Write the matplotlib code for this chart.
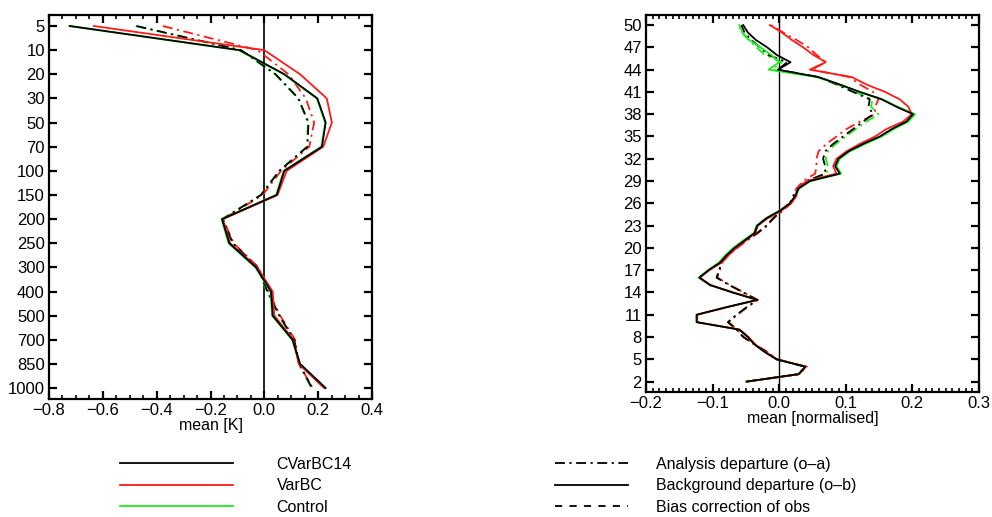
import matplotlib
matplotlib.use("Agg")
import matplotlib.pyplot as plt
from matplotlib.lines import Line2D
from matplotlib.ticker import MultipleLocator, FixedLocator
from matplotlib import font_manager

names = {f.name for f in font_manager.fontManager.ttflist}
BASE = "Liberation Sans" if "Liberation Sans" in names else "DejaVu Sans"
NARROW = "Liberation Sans Narrow" if "Liberation Sans Narrow" in names else BASE
plt.rcParams['font.family'] = [BASE, 'DejaVu Sans']

# ---------------- left panel data (pressure levels, mean [K]) ----------------
levels = [5, 10, 20, 30, 50, 70, 100, 150, 200, 250, 300, 400, 500, 700, 850, 1000]
cv_ob_l = [-0.722, -0.092, 0.075, 0.197, 0.228, 0.214, 0.074, 0.046, -0.157, -0.130, -0.031, 0.025, 0.031, 0.105, 0.133, 0.228]
vb_ob_l = [-0.633, 0.000, 0.133, 0.232, 0.251, 0.219, 0.083, 0.049, -0.154, -0.127, -0.026, 0.031, 0.037, 0.108, 0.128, 0.222]
ct_ob_l = [-0.725, -0.095, 0.072, 0.195, 0.226, 0.212, 0.072, 0.044, -0.159, -0.133, -0.033, 0.023, 0.029, 0.103, 0.131, 0.226]
cv_oa_l = [-0.475, -0.086, 0.042, 0.127, 0.164, 0.160, 0.056, -0.012, -0.155, -0.117, -0.025, 0.012, 0.056, 0.111, 0.130, 0.177]
vb_oa_l = [-0.377, -0.025, 0.090, 0.154, 0.185, 0.167, 0.062, -0.006, -0.153, -0.114, -0.022, 0.015, 0.059, 0.114, 0.128, 0.180]
ct_oa_l = [-0.478, -0.088, 0.040, 0.125, 0.162, 0.158, 0.054, -0.014, -0.157, -0.119, -0.027, 0.010, 0.054, 0.109, 0.128, 0.175]
left_xticks = [-0.8, -0.6, -0.4, -0.2, 0.0, 0.2, 0.4]

# ---------------- right panel data (channels 2..50, mean [normalised]) ----------------
channels = list(range(2, 51))
channel_ticks = [2, 5, 8, 11, 14, 17, 20, 23, 26, 29, 32, 35, 38, 41, 44, 47, 50]
cv_ob_r = [-0.049, 0.029, 0.039, -0.004, -0.022, -0.037, -0.047, -0.060, -0.124, -0.124, -0.080, -0.033, -0.070,
           -0.104, -0.120, -0.106, -0.089, -0.079, -0.067, -0.052, -0.037, -0.033, -0.019, 0.001, 0.016, 0.024,
           0.029, 0.046, 0.091, 0.084, 0.089, 0.104, 0.126, 0.151, 0.169, 0.191, 0.201, 0.176, 0.154, 0.121,
           0.091, 0.059, -0.002, 0.017, -0.004, -0.018, -0.035, -0.047, -0.054]
vb_ob_r = [-0.048, 0.030, 0.040, -0.003, -0.021, -0.036, -0.046, -0.059, -0.123, -0.123, -0.079, -0.032, -0.069,
           -0.103, -0.119, -0.105, -0.087, -0.076, -0.064, -0.050, -0.036, -0.032, -0.017, 0.003, 0.018, 0.026,
           0.026, 0.041, 0.086, 0.081, 0.086, 0.101, 0.121, 0.144, 0.161, 0.186, 0.199, 0.194, 0.181, 0.159,
           0.131, 0.109, 0.046, 0.070, 0.051, 0.036, 0.019, 0.004, -0.014]
ct_ob_r = [-0.049, 0.029, 0.039, -0.004, -0.022, -0.037, -0.047, -0.060, -0.124, -0.124, -0.080, -0.033, -0.070,
           -0.104, -0.121, -0.107, -0.091, -0.081, -0.069, -0.054, -0.038, -0.034, -0.020, 0.000, 0.016, 0.025,
           0.030, 0.047, 0.093, 0.086, 0.091, 0.106, 0.129, 0.154, 0.172, 0.194, 0.204, 0.178, 0.155, 0.121,
           0.090, 0.057, -0.016, 0.000, -0.012, -0.028, -0.045, -0.055, -0.060]
cv_oa_r = [-0.049, 0.029, 0.040, -0.004, -0.019, -0.037, -0.054, -0.064, -0.077, -0.064, -0.049, -0.033, -0.054,
           -0.075, -0.094, -0.090, -0.087, -0.078, -0.065, -0.050, -0.033, -0.019, -0.009, 0.004, 0.016, 0.021,
           0.029, 0.041, 0.069, 0.069, 0.066, 0.069, 0.081, 0.096, 0.111, 0.126, 0.141, 0.134, 0.136, 0.111,
           0.086, 0.059, -0.002, 0.012, -0.017, -0.029, -0.042, -0.052, -0.057]
vb_oa_r = [-0.048, 0.030, 0.042, -0.003, -0.018, -0.036, -0.053, -0.063, -0.076, -0.063, -0.048, -0.032, -0.053,
           -0.074, -0.093, -0.089, -0.086, -0.076, -0.063, -0.048, -0.032, -0.018, -0.008, 0.005, 0.018, 0.023,
           0.026, 0.036, 0.054, 0.056, 0.056, 0.059, 0.071, 0.086, 0.101, 0.121, 0.144, 0.144, 0.149, 0.141,
           0.121, 0.106, 0.049, 0.070, 0.056, 0.044, 0.026, 0.006, -0.012]
ct_oa_r = [-0.049, 0.029, 0.040, -0.004, -0.019, -0.037, -0.054, -0.064, -0.077, -0.064, -0.049, -0.033, -0.054,
           -0.075, -0.094, -0.090, -0.087, -0.078, -0.065, -0.050, -0.033, -0.019, -0.009, 0.004, 0.016, 0.021,
           0.030, 0.042, 0.071, 0.073, 0.070, 0.073, 0.085, 0.100, 0.115, 0.131, 0.149, 0.138, 0.140, 0.114,
           0.088, 0.058, -0.010, 0.004, -0.022, -0.034, -0.046, -0.056, -0.061]
right_xticks = [-0.2, -0.1, 0.0, 0.1, 0.2, 0.3]

exp_names = ["CVarBC14", "VarBC", "Control"]
kind_names = ["Analysis departure (o\u2013a)", "Background departure (o\u2013b)", "Bias correction of obs"]

BLACK, RED, GREEN = "#000000", "#ff1a1a", "#1aee1a"
DASHDOT = (0, (5.5, 2.5, 1.2, 2.5))
DASHED = (0, (4, 4))
LW = 1.3

fig = plt.figure(figsize=(9.92, 5.17), dpi=100)
axL = fig.add_axes([0.0494, 0.2282, 0.3256, 0.7427])
axR = fig.add_axes([0.6512, 0.2418, 0.3357, 0.7298])

lev_idx = list(range(len(levels)))
for vals, col, z in [(ct_oa_l, GREEN, 2), (vb_oa_l, RED, 3), (cv_oa_l, BLACK, 4)]:
    axL.plot(vals, lev_idx, color=col, lw=LW, linestyle=DASHDOT, zorder=z)
for vals, col, z in [(ct_ob_l, GREEN, 5), (vb_ob_l, RED, 6), (cv_ob_l, BLACK, 7)]:
    axL.plot(vals, lev_idx, color=col, lw=LW, linestyle='-', zorder=z)
axL.axvline(0.0, color='black', lw=1.2, zorder=1)
axL.set_xlim(-0.8, 0.4)
axL.set_ylim(len(levels) - 1 + 0.455, -0.455)
axL.yaxis.set_major_locator(FixedLocator(lev_idx))
axL.set_yticklabels([str(v) for v in levels])
axL.xaxis.set_major_locator(FixedLocator(left_xticks))
axL.set_xticklabels(["%.1f" % v if v >= 0 else "\u2212%.1f" % abs(v) for v in left_xticks])
axL.xaxis.set_minor_locator(MultipleLocator(0.05))
axL.set_xlabel("mean [K]", fontsize=11.5, labelpad=0)

for vals, col, z in [(ct_oa_r, GREEN, 2), (vb_oa_r, RED, 3), (cv_oa_r, BLACK, 4)]:
    axR.plot(vals, channels, color=col, lw=LW, linestyle=DASHDOT, zorder=z)
for vals, col, z in [(ct_ob_r, GREEN, 5), (vb_ob_r, RED, 6), (cv_ob_r, BLACK, 7)]:
    axR.plot(vals, channels, color=col, lw=LW, linestyle='-', zorder=z)
axR.axvline(0.0, color='black', lw=1.0, zorder=1)
axR.set_xlim(-0.2, 0.3)
axR.set_ylim(0.6, 51.4)
axR.yaxis.set_major_locator(FixedLocator(channel_ticks))
axR.set_yticklabels([str(v) for v in channel_ticks])
axR.xaxis.set_major_locator(FixedLocator(right_xticks))
axR.set_xticklabels(["%.1f" % v if v >= 0 else "\u2212%.1f" % abs(v) for v in right_xticks])
axR.xaxis.set_minor_locator(MultipleLocator(0.01))
axR.set_xlabel("mean [normalised]", fontsize=11.5, labelpad=0)

for ax in (axL, axR):
    for s in ax.spines.values():
        s.set_linewidth(1.6)
    ax.tick_params(axis='both', which='major', direction='in', top=True, right=True,
                   length=6, width=1.6, labelsize=12, pad=3)
    ax.tick_params(axis='x', which='minor', direction='in', top=True, bottom=True,
                   length=3, width=1.2)
    ax.tick_params(axis='y', which='minor', left=False, right=False)

# legends
h_exp = [Line2D([], [], color=c, lw=1.3) for c in (BLACK, RED, GREEN)]
h_kind = [Line2D([], [], color='black', lw=1.3, linestyle=DASHDOT),
          Line2D([], [], color='black', lw=1.3, linestyle='-'),
          Line2D([], [], color='black', lw=1.3, linestyle=DASHED)]
leg_font = {'family': [NARROW, BASE], 'size': 11.5}
fig.legend(h_exp, exp_names, loc='upper left', bbox_to_anchor=(0.121, 0.117),
           frameon=False, prop=leg_font, handlelength=7.1, handletextpad=2.7,
           labelspacing=0.42, borderpad=0, borderaxespad=0)
fig.legend(h_kind, kind_names, loc='upper left', bbox_to_anchor=(0.5595, 0.117),
           frameon=False, prop=leg_font, handlelength=4.6, handletextpad=1.7,
           labelspacing=0.42, borderpad=0, borderaxespad=0)

fig.savefig("out.png", dpi=100)
